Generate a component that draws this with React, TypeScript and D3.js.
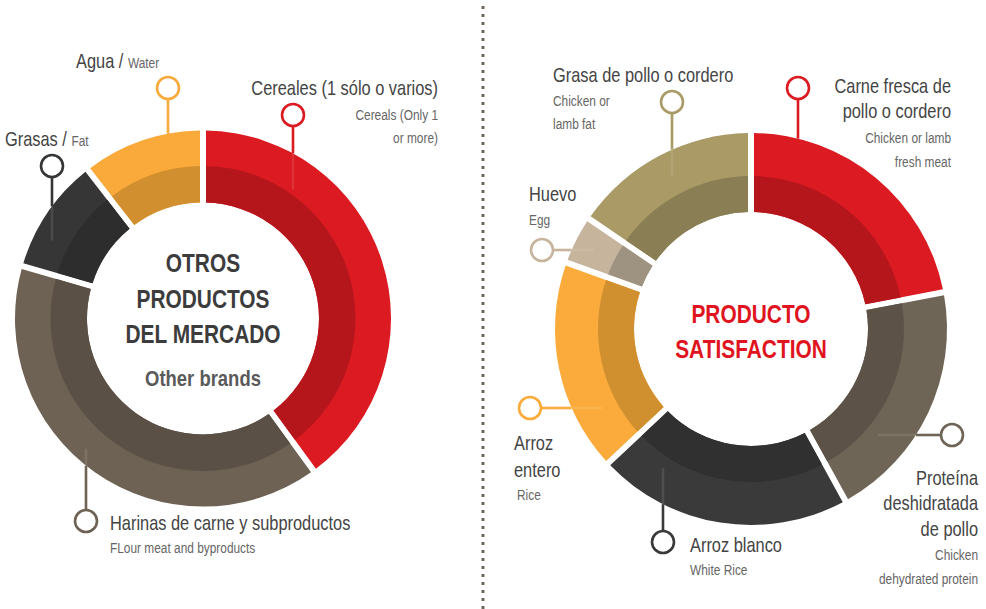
import React from "react";
import * as d3 from "d3";

// ---------- DATA ----------
const leftCategories = ["Cereales", "Harinas de carne", "Grasas", "Agua"];
const leftValues = [40, 39.5, 10, 10.5];
const leftOuterColors = ["#dc1a21", "#6d6253", "#363636", "#f9aa3a"];
const leftInnerColors = ["#b5161c", "#5b5045", "#2d2d2d", "#d18f30"];

const rightCategories = ["Carne fresca", "Proteína", "Arroz blanco", "Arroz entero", "Huevo", "Grasa de pollo"];
const rightValues = [22, 20, 21, 17.5, 4, 15.5];
const rightOuterColors = ["#dc1a21", "#6f6557", "#3a3a3a", "#fbab3b", "#c6b49c", "#a99a66"];
const rightInnerColors = ["#b5161c", "#5c5247", "#303030", "#d1902f", "#9e9280", "#8a7e55"];

const leftTitle = ["OTROS", "PRODUCTOS", "DEL MERCADO"];
const leftSubtitle = "Other brands";
const rightTitle = ["PRODUCTO", "SATISFACTION"];

const FONT = "'Liberation Sans', Arial, sans-serif";
const SX = 0.82; // horizontal compression to mimic a condensed face
const MAIN = "#444444";
const SUB = "#666666";

type Donut = {
  cx: number; cy: number; R: number; r: number; band: number;
  values: number[]; outer: string[]; inner: string[];
};

const leftDonut: Donut = { cx: 203, cy: 318.5, R: 188, r: 116, band: 152.5, values: leftValues, outer: leftOuterColors, inner: leftInnerColors };
const rightDonut: Donut = { cx: 751, cy: 329, R: 196, r: 117, band: 153, values: rightValues, outer: rightOuterColors, inner: rightInnerColors };

function DonutRing({ d }: { d: Donut }) {
  const pie = d3.pie<number>().sort(null).value((v) => v);
  const arcs = pie(d.values);
  const outerArc = d3.arc<d3.PieArcDatum<number>>().innerRadius(d.r).outerRadius(d.R).padAngle(6 / 150).padRadius(150);
  const innerArc = d3.arc<d3.PieArcDatum<number>>().innerRadius(d.r).outerRadius(d.band).padAngle(6 / 150).padRadius(150);
  return (
    <g transform={`translate(${d.cx},${d.cy})`}>
      {arcs.map((a, i) => (
        <g key={i}>
          <path d={outerArc(a) || ""} fill={d.outer[i]} />
          <path d={innerArc(a) || ""} fill={d.inner[i]} />
        </g>
      ))}
    </g>
  );
}

type Callout = { donut: Donut; cx: number; cy: number; dir: "up" | "down" | "left" | "right"; color: string; ext: number };

function CalloutMark({ c }: { c: Callout }) {
  const rad = 11;
  const { donut } = c;
  let x1 = c.cx, y1 = c.cy, x2 = c.cx, y2 = c.cy, x3 = c.cx, y3 = c.cy;
  if (c.dir === "down" || c.dir === "up") {
    const h = Math.sqrt(donut.R * donut.R - (c.cx - donut.cx) ** 2);
    const s = c.dir === "down" ? 1 : -1;
    y1 = c.cy + s * rad;
    y2 = c.dir === "down" ? donut.cy - h : donut.cy + h;
    y3 = y2 + s * c.ext;
  } else {
    const w = Math.sqrt(donut.R * donut.R - (c.cy - donut.cy) ** 2);
    const s = c.dir === "right" ? 1 : -1;
    x1 = c.cx + s * rad;
    x2 = c.dir === "right" ? donut.cx - w : donut.cx + w;
    x3 = x2 + s * c.ext;
  }
  return (
    <g>
      <line x1={x1} y1={y1} x2={x2} y2={y2} stroke={c.color} strokeWidth={2.6} />
      <line x1={x2} y1={y2} x2={x3} y2={y3} stroke="#ffffff" strokeOpacity={0.1} strokeWidth={2.6} />
      <circle cx={c.cx} cy={c.cy} r={rad} fill="#fff" stroke={c.color} strokeWidth={2.6} />
    </g>
  );
}

const callouts: Callout[] = [
  { donut: leftDonut, cx: 168, cy: 88, dir: "down", color: leftOuterColors[3], ext: 0 },
  { donut: leftDonut, cx: 293, cy: 115, dir: "down", color: leftOuterColors[0], ext: 36 },
  { donut: leftDonut, cx: 52, cy: 166, dir: "down", color: leftOuterColors[2], ext: 34 },
  { donut: leftDonut, cx: 86, cy: 521, dir: "up", color: leftOuterColors[1], ext: 17 },
  { donut: rightDonut, cx: 672, cy: 102, dir: "down", color: rightOuterColors[5], ext: 26 },
  { donut: rightDonut, cx: 798, cy: 88, dir: "down", color: rightOuterColors[0], ext: 0 },
  { donut: rightDonut, cx: 542, cy: 250, dir: "right", color: rightOuterColors[4], ext: 22 },
  { donut: rightDonut, cx: 530, cy: 408, dir: "right", color: rightOuterColors[3], ext: 31 },
  { donut: rightDonut, cx: 663, cy: 542, dir: "up", color: rightOuterColors[2], ext: 36 },
  { donut: rightDonut, cx: 952, cy: 435, dir: "left", color: rightOuterColors[1], ext: 38 },
];

type Line = { t: string; x: number; y: number; size: number; fill: string; anchor?: "start" | "end" | "middle"; tail?: string; bold?: boolean };

const labelLines: Line[] = [
  // left donut
  { t: "Agua / ", x: 76, y: 68, size: 20, fill: MAIN, tail: "Water" },
  { t: "Cereales (1 sólo o varios)", x: 438, y: 95, size: 20, fill: MAIN, anchor: "end" },
  { t: "Cereals (Only 1", x: 438, y: 120, size: 14.5, fill: SUB, anchor: "end" },
  { t: "or more)", x: 438, y: 143, size: 14.5, fill: SUB, anchor: "end" },
  { t: "Grasas / ", x: 5, y: 146, size: 20, fill: MAIN, tail: "Fat" },
  { t: "Harinas de carne y subproductos", x: 110, y: 530, size: 20, fill: MAIN },
  { t: "FLour meat and byproducts", x: 110, y: 553, size: 14.5, fill: SUB },
  // right donut
  { t: "Grasa de pollo o cordero", x: 553, y: 82, size: 20, fill: MAIN },
  { t: "Chicken or", x: 553, y: 106, size: 14.5, fill: SUB },
  { t: "lamb fat", x: 553, y: 129, size: 14.5, fill: SUB },
  { t: "Carne fresca de", x: 951, y: 93, size: 20, fill: MAIN, anchor: "end" },
  { t: "pollo o cordero", x: 951, y: 118, size: 20, fill: MAIN, anchor: "end" },
  { t: "Chicken or lamb", x: 951, y: 143, size: 14.5, fill: SUB, anchor: "end" },
  { t: "fresh meat", x: 951, y: 167, size: 14.5, fill: SUB, anchor: "end" },
  { t: "Huevo", x: 529, y: 201, size: 20, fill: MAIN },
  { t: "Egg", x: 529, y: 225, size: 14.5, fill: SUB },
  { t: "Arroz", x: 514, y: 450, size: 20, fill: MAIN },
  { t: "entero", x: 514, y: 477, size: 20, fill: MAIN },
  { t: "Rice", x: 517, y: 500, size: 14.5, fill: SUB },
  { t: "Arroz blanco", x: 690, y: 552, size: 20, fill: MAIN },
  { t: "White Rice", x: 690, y: 575, size: 14.5, fill: SUB },
  { t: "Proteína", x: 978, y: 485, size: 20, fill: MAIN, anchor: "end" },
  { t: "deshidratada", x: 978, y: 510, size: 20, fill: MAIN, anchor: "end" },
  { t: "de pollo", x: 978, y: 536, size: 20, fill: MAIN, anchor: "end" },
  { t: "Chicken", x: 978, y: 560, size: 14.5, fill: SUB, anchor: "end" },
  { t: "dehydrated protein", x: 978, y: 584, size: 14.5, fill: SUB, anchor: "end" },
];

function CText({ l }: { l: Line }) {
  return (
    <text
      transform={`translate(${l.x},${l.y}) scale(${SX},1)`}
      fontSize={l.size}
      fill={l.fill}
      fontWeight={l.bold ? "bold" : "normal"}
      textAnchor={l.anchor || "start"}
    >
      {l.t}
      {l.tail ? <tspan fontSize={14.5} fill={SUB}>{l.tail}</tspan> : null}
    </text>
  );
}

export default function App() {
  const titleLines: Line[] = [
    ...leftTitle.map((t, i) => ({ t, x: leftDonut.cx, y: 272 + i * 35.5, size: 25.5, fill: "#3c3c3c", anchor: "middle" as const, bold: true })),
    { t: leftSubtitle, x: leftDonut.cx, y: 386, size: 22.5, fill: "#5a5a5a", anchor: "middle", bold: true },
    ...rightTitle.map((t, i) => ({ t, x: rightDonut.cx, y: 323 + i * 35, size: 25.5, fill: "#e0141e", anchor: "middle" as const, bold: true })),
  ];
  return (
    <div style={{ position: "absolute", left: 0, top: 0, width: 986, height: 609, background: "#fff" }}>
      <svg width={986} height={609} style={{ display: "block" }} fontFamily={FONT}>
        <rect width={986} height={609} fill="#fff" />
        <line x1={483} y1={6} x2={483} y2={609} stroke="#6e665d" strokeWidth={3} strokeDasharray="3 5" />
        <DonutRing d={leftDonut} />
        <DonutRing d={rightDonut} />
        {callouts.map((c, i) => (
          <CalloutMark key={i} c={c} />
        ))}
        {labelLines.map((l, i) => (
          <CText key={i} l={l} />
        ))}
        {titleLines.map((l, i) => (
          <CText key={"t" + i} l={l} />
        ))}
      </svg>
    </div>
  );
}
